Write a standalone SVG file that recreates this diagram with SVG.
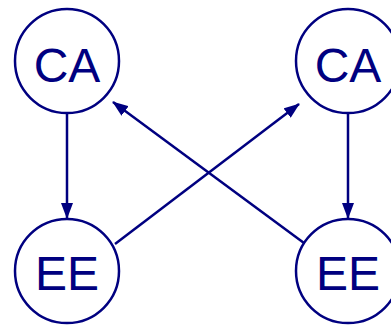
<svg xmlns="http://www.w3.org/2000/svg" width="391" height="325" viewBox="0 0 391 325">
<style>
.n{fill:#fff;stroke:#000080;stroke-width:2.5}
.t{font-family:"Liberation Sans",Arial,sans-serif;font-size:48px;fill:#000080;text-anchor:middle}
.e{stroke:#000080;stroke-width:2.5;fill:none;marker-end:url(#a)}
</style>
<defs>
<marker id="a" markerWidth="16" markerHeight="12" refX="15" refY="6" orient="auto" markerUnits="userSpaceOnUse">
<path d="M0,0 L16,6 L0,12 z" fill="#000080"/>
</marker>
</defs>
<rect width="391" height="325" fill="#fff"/>
<g id="edges">
<line class="e" x1="67" y1="113" x2="67" y2="218"/>
<line class="e" x1="348" y1="113" x2="348" y2="218"/>
<line class="e" x1="115" y1="244" x2="299" y2="104"/>
<line class="e" x1="304" y1="243" x2="113" y2="102"/>
</g>
<g id="ca1"><circle class="n" cx="67" cy="61" r="52"/><text class="t" x="67" y="82">CA</text></g>
<g id="ca2"><circle class="n" cx="348" cy="61" r="52"/><text class="t" x="348" y="82">CA</text></g>
<g id="ee1"><circle class="n" cx="67" cy="271" r="52"/><text class="t" x="67" y="290">EE</text></g>
<g id="ee2"><circle class="n" cx="348" cy="271" r="52"/><text class="t" x="348" y="290">EE</text></g>
</svg>
